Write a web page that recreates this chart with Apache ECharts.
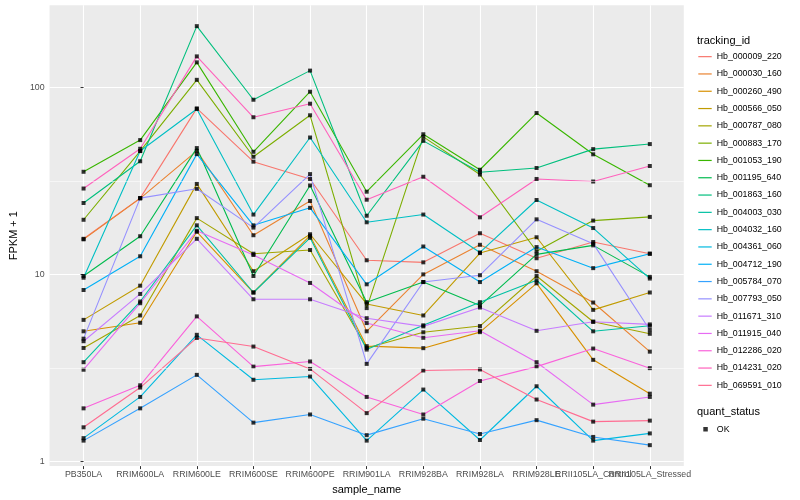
<!DOCTYPE html>
<html><head><meta charset="utf-8">
<script src="https://cdn.jsdelivr.net/npm/echarts@6/dist/echarts.min.js"></script>
<style>html,body{margin:0;padding:0;background:#fff}#c{width:800px;height:500px}</style>
</head><body><div id="c"></div>
<script>
const categories = ['PB350LA','RRIM600LA','RRIM600LE','RRIM600SE','RRIM600PE','RRIM901LA','RRIM928BA','RRIM928LA','RRIM928LE','RRII105LA_Control','RRII105LA_Stressed'];
const trackingIds = ['Hb_000009_220','Hb_000030_160','Hb_000260_490','Hb_000566_050','Hb_000787_080','Hb_000883_170','Hb_001053_190','Hb_001195_640','Hb_001863_160','Hb_004003_030','Hb_004032_160','Hb_004361_060','Hb_004712_190','Hb_005784_070','Hb_007793_050','Hb_011671_310','Hb_011915_040','Hb_012286_020','Hb_014231_020','Hb_069591_010'];
const Hb_000009_220 = [15.5, 25.6, 77.3, 40.1, 32.4, 11.9, 11.6, 16.6, 12.2, 14.9, 12.9];
const Hb_000030_160 = [15.4, 25.5, 45.8, 16.2, 24.7, 4.96, 10.0, 14.4, 10.4, 7.07, 3.86];
const Hb_000260_490 = [4.96, 5.51, 16.9, 8.0, 16.1, 4.13, 4.03, 4.91, 8.96, 3.49, 2.30];
const Hb_000566_050 = [5.71, 8.7, 30.5, 10.4, 16.4, 6.95, 6.03, 13.0, 15.8, 6.46, 8.0];
const Hb_000787_080 = [4.04, 6.03, 20.0, 12.9, 13.5, 4.04, 4.90, 5.29, 9.8, 5.58, 4.81];
const Hb_000883_170 = [19.6, 45.7, 109.9, 42.6, 71.0, 6.6, 54.4, 34.2, 13.3, 19.4, 20.3];
const Hb_001053_190 = [35.4, 52.3, 136.3, 45.3, 94.9, 27.7, 56.2, 36.3, 73.0, 43.9, 30.0];
const Hb_001195_640 = [9.8, 16.0, 47.4, 9.8, 29.9, 7.10, 9.1, 6.81, 12.8, 14.3, 9.7];
const Hb_001863_160 = [24.1, 40.3, 212.9, 86.0, 123.1, 20.6, 51.8, 35.2, 37.1, 46.8, 49.8];
const Hb_004003_030 = [3.39, 7.16, 18.3, 8.0, 15.7, 3.96, 5.34, 7.10, 9.3, 4.96, 5.31];
const Hb_004032_160 = [9.6, 45.7, 76.7, 20.9, 54.0, 19.0, 20.9, 13.1, 25.0, 17.7, 9.5];
const Hb_004361_060 = [1.33, 2.21, 4.75, 2.73, 2.84, 1.29, 2.42, 1.30, 2.52, 1.29, 1.41];
const Hb_004712_190 = [8.25, 12.5, 44.0, 18.3, 22.7, 8.85, 14.1, 9.1, 14.0, 10.8, 12.9];
const Hb_005784_070 = [1.29, 1.92, 2.90, 1.61, 1.78, 1.38, 1.69, 1.40, 1.66, 1.35, 1.22];
const Hb_007793_050 = [4.53, 25.6, 28.7, 17.8, 34.4, 3.32, 9.1, 9.9, 19.7, 14.6, 5.04];
const Hb_011671_310 = [4.39, 7.86, 15.5, 7.36, 7.36, 5.83, 5.27, 6.65, 4.99, 5.58, 5.40];
const Hb_011915_040 = [3.09, 7.01, 17.1, 12.7, 9.0, 5.49, 4.58, 4.99, 3.39, 2.01, 2.21];
const Hb_012286_020 = [1.92, 2.55, 5.96, 3.21, 3.42, 2.21, 1.78, 2.69, 3.21, 4.01, 3.15];
const Hb_014231_020 = [28.8, 47.0, 146.7, 69.3, 81.9, 25.1, 33.3, 20.2, 32.4, 31.4, 38.0];
const Hb_069591_010 = [1.52, 2.48, 4.57, 4.11, 3.12, 1.81, 3.06, 3.10, 2.14, 1.63, 1.65];
const yTickLabels = [1, 10, 100];
const yMinorBreaks = [Math.sqrt(10), Math.sqrt(1000)];

const seriesValues = [Hb_000009_220,Hb_000030_160,Hb_000260_490,Hb_000566_050,Hb_000787_080,Hb_000883_170,Hb_001053_190,Hb_001195_640,Hb_001863_160,Hb_004003_030,Hb_004032_160,Hb_004361_060,Hb_004712_190,Hb_005784_070,Hb_007793_050,Hb_011671_310,Hb_011915_040,Hb_012286_020,Hb_014231_020,Hb_069591_010];
const colors = ['#F8766D','#EA8331','#D89000','#C09B00','#A3A500','#7CAE00','#39B600','#00BB4E','#00BF7D','#00C1A3','#00BFC4','#00BAE0','#00B0F6','#35A2FF','#9590FF','#C77CFF','#E76BF3','#FA62DB','#FF62BC','#FF6C91'];

const allVals = seriesValues.flat();
const lo = Math.log10(Math.min(...allVals)), hi = Math.log10(Math.max(...allVals));
const pad = (hi - lo) * 0.05;
const yMin = Math.pow(10, lo - pad), yMax = Math.pow(10, hi + pad);
const xMin = -0.6, xMax = categories.length - 1 + 0.6;
const FONT = '"Liberation Sans", Arial, Helvetica, sans-serif';
const catIdx = categories.map((c, i) => i);
const evenIdx = catIdx.filter(i => i % 2 === 0);
const oddIdx = catIdx.filter(i => i % 2 === 1);

const lineSeries = trackingIds.map((id, k) => ({
  name: id, type: 'line', data: seriesValues[k].map((v, i) => [i, v]),
  showSymbol: false, symbol: 'none', silent: true, z: 2,
  lineStyle: { color: colors[k], width: 1.1 }, itemStyle: { color: colors[k] }
}));
const pointSeries = {
  name: 'OK', type: 'scatter', z: 3, silent: true,
  data: seriesValues.flatMap(arr => arr.map((v, i) => [i, v])),
  symbol: 'rect', symbolSize: 4, itemStyle: { color: '#000' }
};
const minorGrid = {
  name: '_minor', type: 'line', data: [], z: 1, silent: true,
  markLine: { silent: true, symbol: ['none', 'none'], label: { show: false },
    lineStyle: { color: '#fff', width: 0.55, type: 'solid' },
    data: yMinorBreaks.map(v => ({ yAxis: v })) }
};
const xLabelStyle = { formatter: v => categories[Math.round(v)], fontSize: 8.8, color: '#4D4D4D', margin: 4, fontFamily: FONT,
  showMinLabel: true, showMaxLabel: true, hideOverlap: false };

const chart = echarts.init(document.getElementById('c'), null, { renderer: 'canvas' });
chart.setOption({
  animation: false,
  textStyle: { fontFamily: FONT },
  grid: { left: 39.8, right: 116.2, top: 5.2, bottom: 31.2, show: true, backgroundColor: '#EBEBEB', borderWidth: 0, containLabel: false },
  title: [
    { text: 'tracking_id', left: 697, top: 34.5, padding: 0, textStyle: { fontSize: 11, fontWeight: 'normal', color: '#000', fontFamily: FONT, lineHeight: 12 } },
    { text: 'quant_status', left: 697, top: 406.3, padding: 0, textStyle: { fontSize: 11, fontWeight: 'normal', color: '#000', fontFamily: FONT, lineHeight: 12 } }
  ],
  legend: [
    { data: trackingIds.map((id, k) => ({ name: id, icon: 'rect', itemStyle: { color: colors[k] } })),
      orient: 'vertical', left: 698.3, top: 48, padding: 0, itemWidth: 13.4, itemHeight: 1.2, itemGap: 0,
      selectedMode: false, textStyle: { fontSize: 8.8, color: '#000', lineHeight: 17.3, fontFamily: FONT } },
    { data: [{ name: 'OK', icon: 'rect', itemStyle: { color: '#000' } }],
      orient: 'vertical', left: 703.3, top: 420.6, padding: 0, itemWidth: 4.5, itemHeight: 4.5, itemGap: 0,
      selectedMode: false, textStyle: { fontSize: 8.8, color: '#000', lineHeight: 17.3, padding: [0, 0, 0, 4], fontFamily: FONT } }
  ],
  xAxis: [{
    type: 'value', min: xMin, max: xMax,
    axisLine: { show: false },
    axisTick: { show: true, length: 3, lineStyle: { color: '#333333', width: 1 }, customValues: catIdx },
    axisLabel: Object.assign({ customValues: evenIdx }, xLabelStyle),
    splitLine: { show: true, lineStyle: { color: '#FFFFFF', width: 1.1 } },
    name: 'sample_name', nameLocation: 'middle', nameGap: 15, nameTextStyle: { fontSize: 11, color: '#000', fontFamily: FONT }
  }, {
    type: 'value', min: xMin, max: xMax, position: 'bottom',
    axisLine: { show: false }, axisTick: { show: false }, splitLine: { show: false },
    axisLabel: Object.assign({ customValues: oddIdx }, xLabelStyle)
  }],
  yAxis: {
    type: 'log', logBase: 10, min: yMin, max: yMax,
    axisLine: { show: false },
    axisTick: { show: true, length: 3, lineStyle: { color: '#333333', width: 1 }, customValues: yTickLabels },
    axisLabel: { customValues: yTickLabels, formatter: v => String(Math.round(v)), fontSize: 8.8, color: '#4D4D4D', margin: 5, fontFamily: FONT,
      showMinLabel: true, showMaxLabel: true, hideOverlap: false },
    splitLine: { show: true, lineStyle: { color: '#FFFFFF', width: 1.1 } },
    minorTick: { show: false }, minorSplitLine: { show: false },
    name: 'FPKM + 1', nameLocation: 'middle', nameGap: 22, nameRotate: 90, nameTextStyle: { fontSize: 11, color: '#000', fontFamily: FONT }
  },
  series: [minorGrid, ...lineSeries, pointSeries]
});
</script></body></html>
